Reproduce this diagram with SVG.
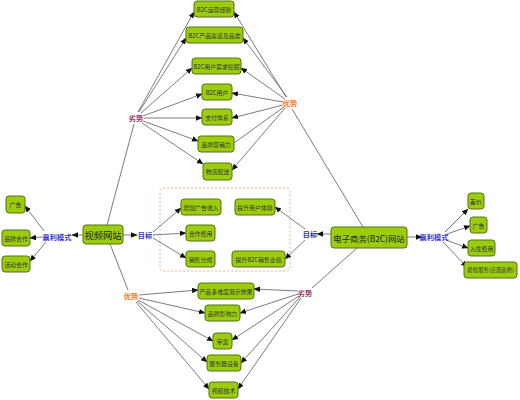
<svg xmlns="http://www.w3.org/2000/svg" width="520" height="400" viewBox="0 0 520 400">
<defs>
<marker id="ah" markerUnits="userSpaceOnUse" markerWidth="7" markerHeight="6" refX="6" refY="2.75" orient="auto">
<path d="M0,0 L6.5,2.75 L0,5.5 z" fill="#111"/>
</marker>
<style>
.n rect{fill:#9ccc0e;stroke:#55750a;stroke-width:1;}
.n text{font-family:"Noto Sans CJK SC","Noto Sans",sans-serif;font-size:5.9px;fill:#333;text-anchor:middle;dominant-baseline:central;}
.m rect{fill:#9ccc0e;stroke:#55750a;stroke-width:1;}
.m text{font-family:"Noto Sans CJK SC","Noto Sans",sans-serif;font-size:9.3px;fill:#222;text-anchor:middle;dominant-baseline:central;}
.lb{font-family:"Noto Sans CJK SC","Noto Sans",sans-serif;font-size:7.2px;font-weight:bold;text-anchor:middle;dominant-baseline:central;}
.blue{fill:#3333cc;}
.org{fill:#ff7722;}
.pur{fill:#993366;}
.c line{stroke:#5a5a5a;stroke-width:0.8;}
.c line.a{marker-end:url(#ah);}
</style>
</defs>
<rect x="0" y="0" width="520" height="400" fill="#fff"/>
<rect x="160" y="188" width="130" height="83" rx="3" fill="none" stroke="#e8a060" stroke-width="0.8" stroke-dasharray="2,2"/>

<g class="c" id="connectors">
<line class="a" x1="138" y1="112" x2="194" y2="12"/>
<line class="a" x1="139" y1="112" x2="186" y2="38"/>
<line class="a" x1="141" y1="113" x2="192" y2="68"/>
<line class="a" x1="143" y1="116" x2="202" y2="94"/>
<line class="a" x1="144" y1="118" x2="202" y2="118"/>
<line class="a" x1="143" y1="121" x2="198" y2="141"/>
<line class="a" x1="142" y1="123" x2="203" y2="164"/>
<line x1="134" y1="124" x2="107" y2="225"/>

<line class="a" x1="286" y1="97" x2="234" y2="12"/>
<line class="a" x1="287" y1="97" x2="243" y2="38"/>
<line class="a" x1="285" y1="99" x2="241" y2="68"/>
<line class="a" x1="283" y1="102" x2="232" y2="93"/>
<line class="a" x1="283" y1="105" x2="232" y2="118"/>
<line x1="284" y1="107" x2="234" y2="143"/>
<line class="a" x1="285" y1="108" x2="232" y2="170"/>
<line x1="292" y1="109" x2="363" y2="227"/>

<line x1="110" y1="244" x2="128" y2="290"/>
<line class="a" x1="139" y1="295" x2="198" y2="290"/>
<line class="a" x1="139" y1="298" x2="205" y2="313"/>
<line class="a" x1="138" y1="300" x2="213" y2="341"/>
<line class="a" x1="137" y1="301" x2="207" y2="362"/>
<line class="a" x1="136" y1="302" x2="209" y2="389"/>

<line x1="357" y1="248" x2="312" y2="288"/>
<line class="a" x1="298" y1="291" x2="254" y2="289"/>
<line class="a" x1="298" y1="294" x2="240" y2="313"/>
<line class="a" x1="299" y1="296" x2="232" y2="340"/>
<line class="a" x1="300" y1="297" x2="241" y2="363"/>
<line class="a" x1="301" y1="298" x2="238" y2="389"/>

<line class="a" x1="83" y1="235" x2="72" y2="235"/>
<line class="a" x1="44" y1="231" x2="25" y2="206"/>
<line class="a" x1="43" y1="237" x2="30" y2="238"/>
<line class="a" x1="46" y1="242" x2="30" y2="261"/>
<line class="a" x1="123" y1="235" x2="137" y2="235"/>
<line class="a" x1="153" y1="232" x2="181" y2="208"/>
<line class="a" x1="153" y1="235" x2="186" y2="233"/>
<line class="a" x1="153" y1="238" x2="186" y2="258"/>

<line class="a" x1="331" y1="234" x2="317" y2="234"/>
<line class="a" x1="305" y1="229" x2="275" y2="207"/>
<line class="a" x1="305" y1="240" x2="285" y2="259"/>
<line class="a" x1="407" y1="237" x2="422" y2="237"/>
<line class="a" x1="445" y1="232" x2="468" y2="209"/>
<line class="a" x1="447" y1="234" x2="470" y2="226"/>
<line class="a" x1="446" y1="240" x2="468" y2="248"/>
<line class="a" x1="443" y1="242" x2="467" y2="267"/>
</g>

<text class="lb pur" x="136" y="118">劣势</text>
<text class="lb org" x="290" y="103">优势</text>
<text class="lb org" x="131" y="296">优势</text>
<text class="lb pur" x="305" y="293">劣势</text>
<text class="lb blue" x="57" y="237">赢利模式</text>
<text class="lb blue" x="145" y="235">目标</text>
<text class="lb blue" x="310" y="234">目标</text>
<text class="lb blue" x="434" y="237">赢利模式</text>

<g class="m" id="video"><rect x="83" y="225" width="40" height="19" rx="3"/><text x="103" y="234.5">视频网站</text></g>
<g class="m" id="ecom"><rect x="331" y="227" width="76" height="21" rx="3"/><text x="369" y="237.5" style="font-size:8.4px">电子商务(B2C)网站</text></g>

<g class="n" id="t1"><rect x="194" y="1" width="40" height="16" rx="3"/><text x="214" y="9">B2C运营经验</text></g>
<g class="n" id="t2"><rect x="186" y="27" width="57" height="16" rx="3"/><text x="214.5" y="35">B2C产品渠道及品类</text></g>
<g class="n" id="t3"><rect x="192" y="58" width="49" height="16" rx="3"/><text x="216.5" y="66">B2C用户需求挖掘</text></g>
<g class="n" id="t4"><rect x="202" y="84" width="30" height="16" rx="3"/><text x="217" y="92">B2C用户</text></g>
<g class="n" id="t5"><rect x="202" y="109" width="30" height="16" rx="3"/><text x="217" y="117">支付体系</text></g>
<g class="n" id="t6"><rect x="198" y="136" width="36" height="16" rx="3"/><text x="216" y="144">品牌营销力</text></g>
<g class="n" id="t7"><rect x="203" y="163" width="29" height="17" rx="3"/><text x="217.5" y="171.5">物流配送</text></g>

<g class="n" id="l1"><rect x="6" y="196" width="19" height="17" rx="3"/><text x="15.5" y="204.5">广告</text></g>
<g class="n" id="l2"><rect x="2" y="230" width="28" height="16" rx="3"/><text x="16" y="238">品牌合作</text></g>
<g class="n" id="l3"><rect x="2" y="256" width="28" height="16" rx="3"/><text x="16" y="264">活动合作</text></g>

<g class="n" id="g1"><rect x="181" y="199" width="40" height="16" rx="3"/><text x="201" y="207">增加广告收入</text></g>
<g class="n" id="g2"><rect x="186" y="225" width="29" height="16" rx="3"/><text x="200.5" y="233">合作费用</text></g>
<g class="n" id="g3"><rect x="186" y="251" width="29" height="16" rx="3"/><text x="200.5" y="259">销售分成</text></g>
<g class="n" id="g4"><rect x="235" y="199" width="40" height="16" rx="3"/><text x="255" y="207">提升用户体验</text></g>
<g class="n" id="g5"><rect x="232" y="251" width="53" height="16" rx="3"/><text x="258.5" y="259">提升B2C销售业绩</text></g>

<g class="n" id="r1"><rect x="468" y="193" width="16" height="16" rx="3"/><text x="476" y="201">差价</text></g>
<g class="n" id="r2"><rect x="470" y="217" width="17" height="16" rx="3"/><text x="478.5" y="225">广告</text></g>
<g class="n" id="r3"><rect x="468" y="240" width="27" height="16" rx="3"/><text x="481.5" y="248">入住费用</text></g>
<g class="n" id="r4"><rect x="464" y="262" width="53" height="16" rx="3"/><text x="490.5" y="270" style="font-size:5.4px">增值服务(店面装修)</text></g>

<g class="n" id="b1"><rect x="198" y="283" width="56" height="16" rx="3"/><text x="226" y="291">产品多维度展示效果</text></g>
<g class="n" id="b2"><rect x="205" y="305" width="35" height="16" rx="3"/><text x="222.5" y="313">品牌影响力</text></g>
<g class="n" id="b3"><rect x="213" y="333" width="19" height="16" rx="3"/><text x="222.5" y="341">带宽</text></g>
<g class="n" id="b4"><rect x="207" y="355" width="34" height="16" rx="3"/><text x="224" y="363">服务器设备</text></g>
<g class="n" id="b5"><rect x="209" y="382" width="29" height="16" rx="3"/><text x="223.5" y="390">视频技术</text></g>
</svg>
